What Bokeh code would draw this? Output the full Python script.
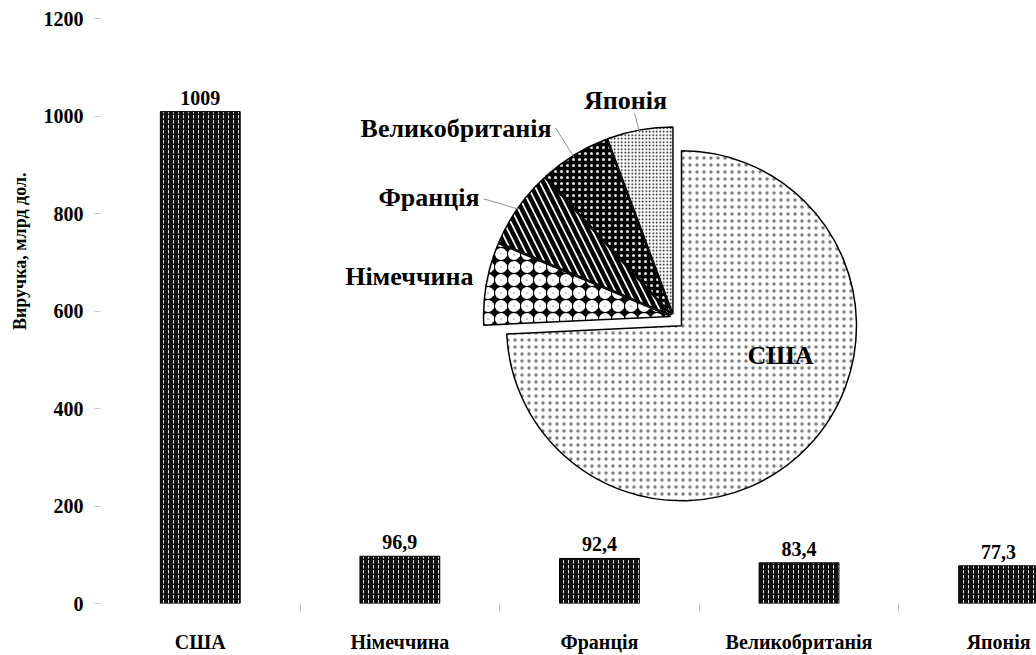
import math
from bokeh.plotting import figure
from bokeh.models import ColumnDataSource, Range1d, FixedTicker, Title
from bokeh.core.properties import value
from bokeh.embed import file_html
from bokeh.resources import INLINE

# ---- data ----
countries = ["США", "Німеччина", "Франція", "Великобританія", "Японія"]
revenue = [1009, 96.9, 92.4, 83.4, 77.3]
value_labels = ["1009", "96,9", "92,4", "83,4", "77,3"]
y_ticks = [0, 200, 400, 600, 800, 1000, 1200]
y_axis_title = "Виручка, млрд дол."

# ---- layout (pixels) ----
W, H = 1036, 655
LEFT, TOP, BOTTOM = 100, 18, 43
FW, FH = W - LEFT, H - TOP - BOTTOM
X0, X1 = -0.5, 4.19
Y0, Y1 = 0, 1200
SX = FW / (X1 - X0)
SY = FH / (Y1 - Y0)


def to_data(px, py):
    return X0 + (px - LEFT) / SX, Y0 + (TOP + FH - py) / SY


FONT = "Liberation Serif"

p = figure(width=W, height=H, output_backend="svg", toolbar_location=None,
           x_range=Range1d(X0, X1), y_range=Range1d(Y0, Y1),
           min_border_left=LEFT, min_border_right=0, min_border_top=TOP,
           min_border_bottom=BOTTOM)
p.title.text = ""
p.outline_line_color = None
p.xgrid.grid_line_color = None
p.ygrid.grid_line_color = None
p.background_fill_color = "white"
p.border_fill_color = "white"

# ---- axes ----
idx = list(range(len(countries)))
p.xaxis.ticker = FixedTicker(ticks=idx, minor_ticks=[i + 0.5 for i in idx[:-1]])
p.xaxis.major_label_overrides = {i: c for i, c in zip(idx, countries)}
p.xaxis.axis_line_color = None
p.xaxis.major_tick_line_color = None
p.xaxis.major_tick_out = 0
p.xaxis.major_tick_in = 0
p.xaxis.minor_tick_line_color = "#c8c8c8"
p.xaxis.minor_tick_out = 8
p.xaxis.minor_tick_in = 0
p.xaxis.major_label_standoff = 19
p.xaxis.major_label_text_font = FONT
p.xaxis.major_label_text_font_style = "bold"
p.xaxis.major_label_text_font_size = "20px"
p.xaxis.major_label_text_color = "black"

p.yaxis.ticker = FixedTicker(ticks=y_ticks)
p.yaxis.axis_line_color = None
p.yaxis.major_tick_line_color = "#c8c8c8"
p.yaxis.major_tick_out = 6
p.yaxis.major_tick_in = 0
p.yaxis.minor_tick_line_color = None
p.yaxis.major_label_standoff = 11
p.yaxis.major_label_text_font = FONT
p.yaxis.major_label_text_font_style = "bold"
p.yaxis.major_label_text_font_size = "20px"
p.yaxis.major_label_text_color = "black"

p.add_layout(Title(text=y_axis_title, align="right", offset=154,
                   vertical_align="top", standoff=18,
                   text_font=FONT, text_font_style="bold", text_font_size="18px",
                   text_color="black"), "left")

# ---- bars ----
bar_src = ColumnDataSource(dict(x=idx, top=revenue, lbl=value_labels))
p.vbar(x="x", top="top", width=0.4, source=bar_src,
       fill_color="#111111", line_color="black", line_width=1,
       hatch_pattern="vertical_dash", hatch_color="white",
       hatch_scale=5, hatch_weight=1, hatch_alpha=0.85)
p.text(x="x", y="top", text="lbl", source=bar_src,
       text_align="center", text_baseline="bottom", y_offset=-7,
       text_font=value(FONT), text_font_style="bold", text_font_size="20px",
       text_color="black")

# ---- pie inset ----
PIE_C = (681, 330)
R_MAIN, R_SMALL = 175, 187
GROUP_SHIFT = (-8, -9)
EXPLODE = 3

total = sum(revenue)
cum = 0.0
px_, py_, rs, sa, ea, bis = [], [], [], [], [], []
for i, v in enumerate(revenue):
    a_start = 90 - cum
    cum += v / total * 360
    a_end = 90 - cum
    b = (a_start + a_end) / 2
    if i == 0:
        cx, cy, r = PIE_C[0], PIE_C[1], R_MAIN
    else:
        cx = PIE_C[0] + GROUP_SHIFT[0] + EXPLODE * math.cos(math.radians(b))
        cy = PIE_C[1] + GROUP_SHIFT[1] - EXPLODE * math.sin(math.radians(b))
        r = R_SMALL
    px_.append(cx); py_.append(cy); rs.append(r)
    sa.append(a_end); ea.append(a_start); bis.append(b)

dx = [to_data(a, b)[0] for a, b in zip(px_, py_)]
dy = [to_data(a, b)[1] for a, b in zip(px_, py_)]

pie_fill = ["white", "black", "white", "black", "white"]
pie_hatch = ["dot", "ring", "left_diagonal_line", "dot", "dot"]
pie_hatch_color = ["black", "white", "black", "white", "black"]
pie_hatch_scale = [7, 13, 14, 6, 3.5]
pie_hatch_weight = [0.3, 5.5, 4.5, 0.3, 1]
pie_hatch_alpha = [0.5, 1, 1, 0.9, 1]

pie_src = ColumnDataSource(dict(x=dx, y=dy, r=rs, s=sa, e=ea, fill=pie_fill,
                                hp=pie_hatch, hc=pie_hatch_color,
                                hs=pie_hatch_scale, hw=pie_hatch_weight,
                                ha=pie_hatch_alpha))
p.wedge(x="x", y="y", radius="r", radius_units="screen",
        start_angle="s", end_angle="e", start_angle_units="deg", end_angle_units="deg",
        source=pie_src, fill_color="fill", line_color="black", line_width=1.5,
        hatch_pattern="hp", hatch_color="hc", hatch_scale="hs", hatch_weight="hw",
        hatch_alpha="ha")

# pie labels
lab_px = [780, 473, 479, 551, 625]
lab_py = [360, 280, 200, 130, 101]
lab_align = ["center", "right", "right", "right", "center"]
lab_src = ColumnDataSource(dict(
    x=[to_data(a, b)[0] for a, b in zip(lab_px, lab_py)],
    y=[to_data(a, b)[1] for a, b in zip(lab_px, lab_py)],
    t=countries, al=lab_align))
p.text(x="x", y="y", text="t", text_align="al", text_baseline="middle", source=lab_src,
       text_font=value(FONT), text_font_style="bold", text_font_size="26px",
       text_color="black")

# leader lines (France, UK, Japan)
lead_start = {2: (483, 201), 3: (555, 129), 4: (634, 114)}
x0s, y0s, x1s, y1s = [], [], [], []
for i, (sxp, syp) in lead_start.items():
    ex = px_[i] + rs[i] * math.cos(math.radians(bis[i]))
    ey = py_[i] - rs[i] * math.sin(math.radians(bis[i]))
    a0 = to_data(sxp, syp); a1 = to_data(ex, ey)
    x0s.append(a0[0]); y0s.append(a0[1]); x1s.append(a1[0]); y1s.append(a1[1])
p.segment(x0=x0s, y0=y0s, x1=x1s, y1=y1s, line_color="#909090", line_width=1)

open("out.html", "w").write(file_html(p, INLINE))
